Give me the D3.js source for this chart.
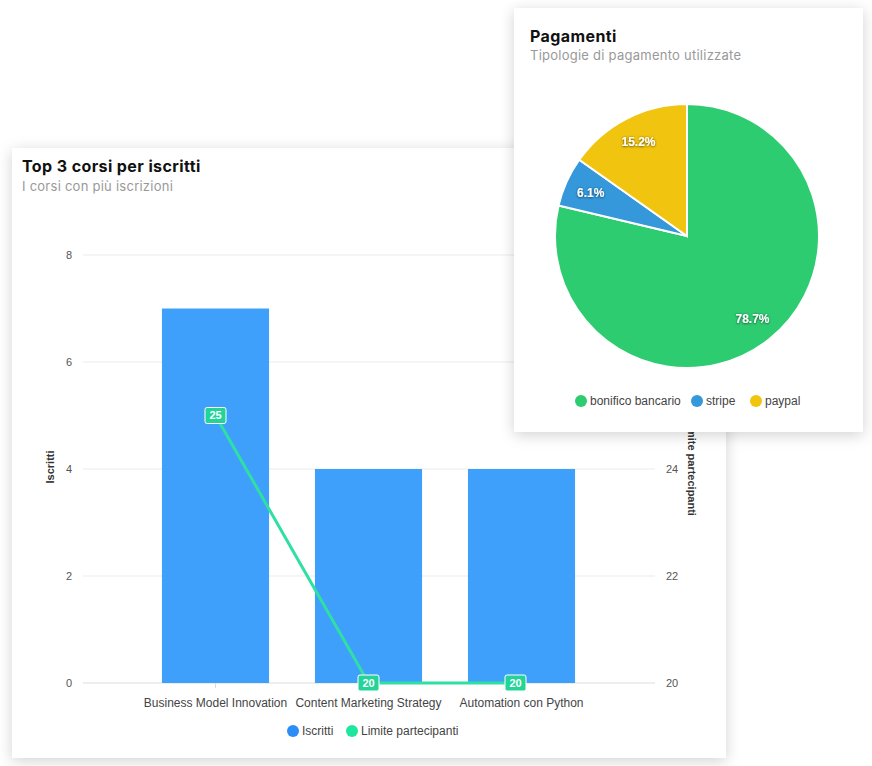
<!DOCTYPE html>
<html>
<head>
<meta charset="utf-8">
<script src="https://cdn.jsdelivr.net/npm/d3@7"></script>
<style>
  body { margin: 0; background: #fff; width: 872px; height: 766px; position: relative; overflow: hidden; }
  .card { position: absolute; background: #fff; box-shadow: 0 3px 14px rgba(0,0,0,0.18); }
  .card svg { position: absolute; left: 0; top: 0; }
  .ttl { font-family: Inter, "Noto Sans", sans-serif; font-weight: 700; fill: #111; letter-spacing: 0.4px; }
  .sub { font-family: Inter, "Noto Sans", sans-serif; fill: #999; letter-spacing: 0.25px; }
  .ax { font-family: "Liberation Sans", Arial, sans-serif; }
</style>
</head>
<body>
<div id="bars" class="card" style="left:12px;top:148px;width:714px;height:610px;"></div>
<div id="pie" class="card" style="left:514px;top:8px;width:349px;height:424px;"></div>
<script>
// bar chart data
const corsi = ["Business Model Innovation", "Content Marketing Strategy", "Automation con Python"];
const iscritti = [7, 4, 4];
const limite = [25, 20, 20];
const leftTicks = [0, 2, 4, 6, 8];
const rightTicks = [20, 22, 24, 26, 28];

// pie data
const metodi = ["bonifico bancario", "stripe", "paypal"];
const quote = [78.7, 6.1, 15.2];
const pieColors = ["#2ecc71", "#3498db", "#f1c40f"];

const barBlue = "#3fa0fb";
const lineGreen = "#2fe0a2";

// ---------- bar card ----------
const bw = 714, bh = 610;
const svg = d3.select("#bars").append("svg").attr("width", bw).attr("height", bh);

svg.append("text").attr("class", "ttl").attr("x", 10).attr("y", 24)
  .attr("font-size", "16px").text("Top 3 corsi per iscritti");
svg.append("text").attr("class", "sub").attr("x", 10).attr("y", 43)
  .attr("font-size", "13px").text("I corsi con più iscrizioni");

const gx0 = 71, gx1 = 643;
const y = d3.scaleLinear().domain([0, 8]).range([535, 107]);
const y2 = d3.scaleLinear().domain([20, 28]).range([535, 107]);
const x = d3.scaleBand().domain(corsi).range([127, 586]).paddingInner(0.3).paddingOuter(0.15);

// grid
svg.append("g").selectAll("line").data(leftTicks).join("line")
  .attr("x1", gx0).attr("x2", gx1)
  .attr("y1", d => y(d)).attr("y2", d => y(d))
  .attr("stroke", d => d === 0 ? "#dcdcdc" : "#ebebeb").attr("stroke-width", 1);

// left tick labels
svg.append("g").selectAll("text").data(leftTicks).join("text")
  .attr("class", "ax").attr("x", 60).attr("y", d => y(d)).attr("dy", "0.35em")
  .attr("text-anchor", "end").attr("font-size", "11px").attr("fill", "#555")
  .text(d => d);

// right tick labels
svg.append("g").selectAll("text").data(rightTicks).join("text")
  .attr("class", "ax").attr("x", 654).attr("y", d => y2(d)).attr("dy", "0.35em")
  .attr("font-size", "11px").attr("fill", "#555")
  .text(d => d);

// axis titles
svg.append("text").attr("class", "ax")
  .attr("transform", `translate(38,${(y(0) + y(8)) / 2 - 2}) rotate(-90)`)
  .attr("text-anchor", "middle").attr("dy", "0.35em")
  .attr("font-size", "11px").attr("font-weight", "bold").attr("fill", "#333")
  .text("Iscritti");
svg.append("text").attr("class", "ax")
  .attr("transform", `translate(680,${(y(0) + y(8)) / 2 - 2}) rotate(90)`)
  .attr("text-anchor", "middle").attr("dy", "0.35em")
  .attr("font-size", "11px").attr("font-weight", "bold").attr("fill", "#333")
  .text("Limite partecipanti");

// bars
svg.append("g").selectAll("rect").data(corsi).join("rect")
  .attr("x", d => x(d)).attr("width", x.bandwidth())
  .attr("y", (d, i) => y(iscritti[i])).attr("height", (d, i) => y(0) - y(iscritti[i]))
  .attr("fill", barBlue);

// x ticks + labels
svg.append("g").selectAll("line").data(corsi).join("line")
  .attr("x1", d => x(d) + x.bandwidth() / 2).attr("x2", d => x(d) + x.bandwidth() / 2)
  .attr("y1", y(0)).attr("y2", y(0) + 5).attr("stroke", "#dcdcdc");
svg.append("g").selectAll("text").data(corsi).join("text")
  .attr("class", "ax").attr("x", d => x(d) + x.bandwidth() / 2).attr("y", y(0) + 20)
  .attr("dy", "0.35em").attr("text-anchor", "middle")
  .attr("font-size", "12px").attr("fill", "#444").text(d => d);

// line
const line = d3.line()
  .x((d, i) => x(corsi[i]) + x.bandwidth() / 2)
  .y(d => y2(d));
svg.append("path").datum(limite).attr("d", line)
  .attr("fill", "none").attr("stroke", lineGreen).attr("stroke-width", 3);

// value labels (last one nudged left like the original)
const nudge = [0, 0, -6];
const lbl = svg.append("g").selectAll("g").data(limite).join("g")
  .attr("transform", (d, i) => `translate(${x(corsi[i]) + x.bandwidth() / 2 + nudge[i]},${y2(d)})`);
lbl.append("rect").attr("x", -10.5).attr("y", -8).attr("width", 21).attr("height", 16)
  .attr("rx", 2).attr("fill", "#23d398").attr("stroke", "#fff").attr("stroke-width", 1);
lbl.append("text").attr("class", "ax").attr("text-anchor", "middle").attr("dy", "0.36em")
  .attr("font-size", "11px").attr("font-weight", "bold").attr("fill", "#fff")
  .text(d => d);

// legend
const legBar = [
  { name: "Iscritti", color: "#2a8ef6", x: 281 },
  { name: "Limite partecipanti", color: "#1fe69f", x: 340 }
];
const lg = svg.append("g").selectAll("g").data(legBar).join("g")
  .attr("transform", d => `translate(${d.x},583)`);
lg.append("circle").attr("r", 6).attr("fill", d => d.color);
lg.append("text").attr("class", "ax").attr("x", 9).attr("dy", "0.35em")
  .attr("font-size", "12px").attr("fill", "#444").text(d => d.name);

// ---------- pie card ----------
const pw = 349, ph = 424;
const ps = d3.select("#pie").append("svg").attr("width", pw).attr("height", ph);

ps.append("text").attr("class", "ttl").attr("x", 16).attr("y", 34)
  .attr("font-size", "16px").text("Pagamenti");
ps.append("text").attr("class", "sub").attr("x", 16).attr("y", 52)
  .attr("font-size", "13px").text("Tipologie di pagamento utilizzate");

const R = 132;
const cx = 173, cy = 228;
const pie = d3.pie().sort(null).value(d => d);
const arcs = pie(quote);
const arc = d3.arc().innerRadius(0).outerRadius(R);
const labelArc = d3.arc().innerRadius(R * 0.8).outerRadius(R * 0.8);

const pg = ps.append("g").attr("transform", `translate(${cx},${cy})`);
pg.selectAll("path").data(arcs).join("path")
  .attr("d", arc).attr("fill", (d, i) => pieColors[i])
  .attr("stroke", "#fff").attr("stroke-width", 2);

const defs = ps.append("defs");
defs.append("filter").attr("id", "tshadow")
  .append("feDropShadow").attr("dx", 0).attr("dy", 0.5).attr("stdDeviation", 0.9)
  .attr("flood-color", "#000").attr("flood-opacity", 0.7);

pg.selectAll("text").data(arcs).join("text")
  .attr("class", "ax")
  .attr("transform", d => `translate(${labelArc.centroid(d)})`)
  .attr("text-anchor", "middle").attr("dy", "0.35em")
  .attr("font-size", "12px").attr("font-weight", "bold").attr("fill", "#fff")
  .attr("filter", "url(#tshadow)")
  .text(d => d.data.toFixed(1) + "%");

const legX = [67, 183, 242];
const pl = ps.append("g").selectAll("g").data(metodi).join("g")
  .attr("transform", (d, i) => `translate(${legX[i]},393)`);
pl.append("circle").attr("r", 6).attr("fill", (d, i) => pieColors[i]);
pl.append("text").attr("class", "ax").attr("x", 9).attr("dy", "0.35em")
  .attr("font-size", "12px").attr("fill", "#444").text(d => d);
</script>
</body>
</html>
